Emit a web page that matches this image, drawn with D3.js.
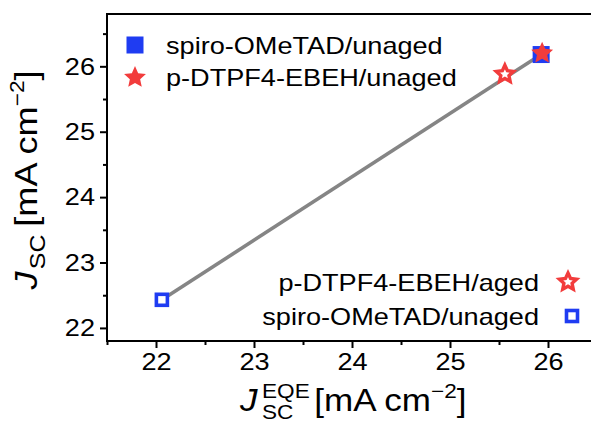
<!DOCTYPE html>
<html>
<head>
<meta charset="utf-8">
<script src="https://cdn.jsdelivr.net/npm/d3@7"></script>
<style>
  html, body { margin: 0; padding: 0; background: #fff; }
  svg { display: block; font-family: "Liberation Sans", Arial, sans-serif; }
</style>
</head>
<body>
<svg id="chart" width="591" height="423"></svg>
<script>
// Short-circuit current density: EQE-integrated (x) vs J–V measured (y)
const spiroUnaged = [{ x: 25.93, y: 26.18 }];
const dtpfUnaged  = [{ x: 25.94, y: 26.2 }];
const dtpfAged    = [{ x: 25.56, y: 25.88 }];
const spiroAged   = [{ x: 22.06, y: 22.43 }];
// trend line through the measured points
const trend = [{ x: 22.06, y: 22.43 }, { x: 25.93, y: 26.18 }];

const xMajor = [22, 23, 24, 25, 26];
const xMinor = [21.5, 22.5, 23.5, 24.5, 25.5, 26.5];
const yMajor = [22, 23, 24, 25, 26];
const yMinor = [22.5, 23.5, 24.5, 25.5, 26.5];

const legendTop = [
  { label: "spiro-OMeTAD/unaged", marker: "square", filled: true },
  { label: "p-DTPF4-EBEH/unaged", marker: "star", filled: true }
];
const legendBottom = [
  { label: "p-DTPF4-EBEH/aged", marker: "star", filled: false },
  { label: "spiro-OMeTAD/unaged", marker: "square", filled: false }
];

const BLUE = "#1f3cf2";
const RED = "#f23c3c";
const GRAY = "#858585";
const WIDE = 1.13;   // horizontal stretch of the lettering

const svg = d3.select("#chart");
const m = { left: 107, top: 14, bottom: 341, right: 597 };

const x = d3.scaleLinear().domain([21.5, 26.5]).range([m.left, m.right]);
const y = d3.scaleLinear().domain([21.8, 26.8]).range([m.bottom, m.top]);

// star outline centred on the origin
function starPath(R, r) {
  const pts = [];
  for (let i = 0; i < 10; i++) {
    const a = -Math.PI / 2 + i * Math.PI / 5;
    const rad = i % 2 === 0 ? R : r;
    pts.push([rad * Math.cos(a), rad * Math.sin(a)]);
  }
  return "M" + pts.map(p => p[0].toFixed(2) + "," + p[1].toFixed(2)).join("L") + "Z";
}

function drawMarker(g, type, filled, cx, cy) {
  if (type === "square") {
    if (filled) {
      g.append("rect").attr("x", cx - 8.5).attr("y", cy - 8.5)
        .attr("width", 17).attr("height", 17).attr("fill", BLUE);
    } else {
      g.append("rect").attr("x", cx - 5.5).attr("y", cy - 5.5)
        .attr("width", 11).attr("height", 11)
        .attr("fill", "#fff").attr("stroke", BLUE).attr("stroke-width", 3.6);
    }
  } else {
    if (filled) {
      g.append("path").attr("d", starPath(11.5, 5.4))
        .attr("transform", `translate(${cx},${cy})`).attr("fill", RED);
    } else {
      g.append("path").attr("d", starPath(9, 4.3))
        .attr("transform", `translate(${cx},${cy})`)
        .attr("fill", "#fff").attr("stroke", RED).attr("stroke-width", 3.4)
        .attr("stroke-linejoin", "miter");
    }
  }
}

// positioned, horizontally stretched text
function label(g, tx, ty, txt, size, anchor) {
  return g.append("text")
    .attr("transform", `translate(${tx},${ty}) scale(${WIDE},1)`)
    .attr("text-anchor", anchor || "start")
    .attr("font-size", size).attr("fill", "#000").text(txt);
}

// axes
const axisStyle = g => {
  g.select(".domain").remove();
  g.selectAll("line").attr("stroke", "#000").attr("stroke-width", 2);
  g.selectAll("text").attr("font-size", 24).attr("fill", "#000");
};

svg.append("g").attr("transform", `translate(0,${m.bottom})`)
  .call(d3.axisBottom(x).tickValues(xMajor).tickSize(7).tickPadding(5).tickFormat(d3.format("d")))
  .call(axisStyle)
  .call(g => g.selectAll("text").attr("transform", `scale(${WIDE},1)`));
svg.append("g").attr("transform", `translate(0,${m.bottom})`)
  .call(d3.axisBottom(x).tickValues(xMinor).tickSize(4).tickFormat(""))
  .call(axisStyle);
svg.append("g").attr("transform", `translate(${m.left},0)`)
  .call(d3.axisLeft(y).tickValues(yMajor).tickSize(7).tickPadding(5).tickFormat(d3.format("d")))
  .call(axisStyle)
  .call(g => g.selectAll("text")
    .attr("x", -12 / WIDE)
    .attr("transform", `scale(${WIDE},1)`));
svg.append("g").attr("transform", `translate(${m.left},0)`)
  .call(d3.axisLeft(y).tickValues(yMinor).tickSize(4).tickFormat(""))
  .call(axisStyle);

// frame
svg.append("path")
  .attr("d", `M${m.right},${m.top}H${m.left}V${m.bottom}H${m.right}`)
  .attr("fill", "none").attr("stroke", "#000").attr("stroke-width", 2);

// trend line
svg.append("path").datum(trend)
  .attr("d", d3.line().x(d => x(d.x)).y(d => y(d.y)))
  .attr("fill", "none").attr("stroke", GRAY).attr("stroke-width", 3.6);

// data points
const pts = svg.append("g");
spiroAged.forEach(d => drawMarker(pts, "square", false, x(d.x), y(d.y)));
dtpfAged.forEach(d => drawMarker(pts, "star", false, x(d.x), y(d.y)));
spiroUnaged.forEach(d => drawMarker(pts, "square", true, x(d.x), y(d.y)));
dtpfUnaged.forEach(d => drawMarker(pts, "star", true, x(d.x), y(d.y)));

// legends
const lg1 = svg.append("g");
legendTop.forEach((d, i) => {
  const cy = 45 + i * 32.5;
  drawMarker(lg1, d.marker, d.filled, 135, cy);
  label(lg1, 166, cy + 8.5, d.label, 24);
});
const lg2 = svg.append("g");
legendBottom.forEach((d, i) => {
  const cy = 282 + i * 34;
  drawMarker(lg2, d.marker, d.filled, i === 0 ? 568 : 572, cy);
  label(lg2, 539, cy + 8.5, d.label, 24, "end");
});

// x-axis title: J_SC^EQE [mA cm^-2]
(function () {
  const g = svg.append("g").attr("transform", `translate(240,411) scale(${WIDE},1)`);
  let cx = 0;
  const add = (txt, size, dy, italic) => {
    const t = g.append("text").attr("x", cx).attr("y", dy)
      .attr("font-size", size).text(txt);
    if (italic) t.attr("font-style", "italic");
    return t.node().getComputedTextLength();
  };
  cx += add("J", 31, 0, true) + 4;
  const wSup = add("EQE", 20, -13);
  const wSub = add("SC", 20, 8);
  cx += Math.max(wSup, wSub) + 4;
  cx += add("[mA cm", 31, 0);
  cx += add("\u22122", 20, -13);
  add("]", 31, 0);
})();

// y-axis title: J_SC [mA cm^-2], rotated
(function () {
  const g = svg.append("g").attr("transform", `translate(37,180) rotate(-90) scale(${WIDE},1)`);
  const t = g.append("text").attr("text-anchor", "middle").attr("font-size", 32);
  t.append("tspan").attr("font-style", "italic").text("J");
  t.append("tspan").attr("font-size", 22).attr("dy", 8).attr("dx", 2).text("SC");
  t.append("tspan").attr("dy", -8).attr("dx", 7).text("[mA cm");
  t.append("tspan").attr("font-size", 20).attr("dy", -13).text("\u22122");
  t.append("tspan").attr("dy", 13).text("]");
})();
</script>
</body>
</html>
